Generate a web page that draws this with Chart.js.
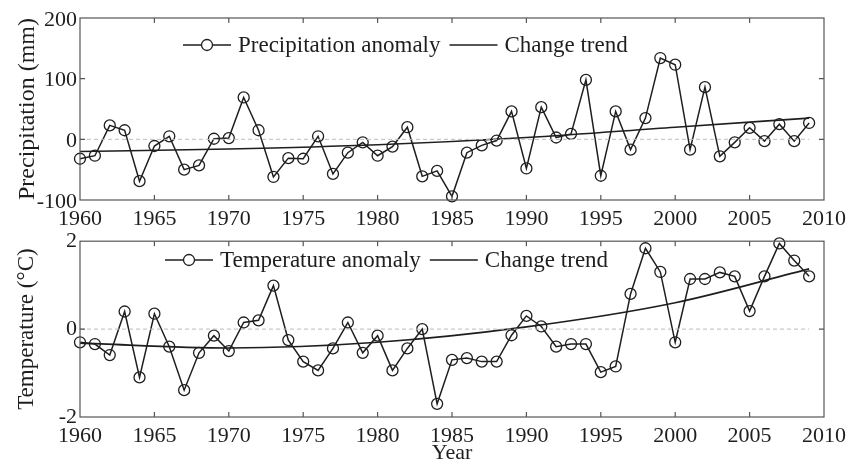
<!DOCTYPE html>
<html lang="en">
<head>
<meta charset="UTF-8">
<title>Precipitation and temperature anomaly</title>
<script src="https://cdn.jsdelivr.net/npm/chart.js"></script>
<style>
  body { margin: 0; background: #fff; }
  .panel { position: absolute; left: 0; width: 859px; }
  #top { top: 0; height: 230px; }
  #bottom { top: 225px; height: 246px; }
</style>
</head>
<body>
<div class="panel" id="top"><canvas id="precChart"></canvas></div>
<div class="panel" id="bottom"><canvas id="tempChart"></canvas></div>

<script>
// data
const years = [1960, 1961, 1962, 1963, 1964, 1965, 1966, 1967, 1968, 1969,
               1970, 1971, 1972, 1973, 1974, 1975, 1976, 1977, 1978, 1979,
               1980, 1981, 1982, 1983, 1984, 1985, 1986, 1987, 1988, 1989,
               1990, 1991, 1992, 1993, 1994, 1995, 1996, 1997, 1998, 1999,
               2000, 2001, 2002, 2003, 2004, 2005, 2006, 2007, 2008, 2009];

const precip = [-32, -27, 23, 15, -69, -11, 5, -50, -43, 1,
                2, 69, 15, -62, -31, -32, 5, -57, -22, -5,
                -27, -12, 20, -61, -52, -94, -22, -10, -2, 46,
                -48, 53, 3, 9, 98, -60, 46, -17, 35, 134,
                123, -17, 86, -28, -5, 19, -3, 25, -3, 27];

const temp = [-0.30, -0.34, -0.59, 0.40, -1.10, 0.35, -0.40, -1.39, -0.54, -0.15,
              -0.50, 0.15, 0.20, 0.99, -0.25, -0.74, -0.94, -0.44, 0.15, -0.54,
              -0.15, -0.94, -0.44, 0.00, -1.70, -0.70, -0.66, -0.74, -0.74, -0.14,
              0.30, 0.06, -0.40, -0.34, -0.34, -0.98, -0.85, 0.80, 1.84, 1.30,
              -0.30, 1.14, 1.14, 1.29, 1.20, 0.41, 1.20, 1.95, 1.56, 1.20];

// trend curves, sampled at a few years
const trendYears = [1960, 1970, 1980, 1990, 2000, 2009];
const precipTrend = [-20, -16, -9, 3, 20, 35];
const tempTrend = [-0.32, -0.43, -0.30, 0.05, 0.60, 1.37];

const xTicks = [1960, 1965, 1970, 1975, 1980, 1985, 1990, 1995, 2000, 2005, 2010];
const precipTicks = [-100, 0, 100, 200];
const tempTicks = [-2, 0, 2];

const FONT = 'Liberation Serif, Times New Roman, serif';
const INK = '#1e1e1e';

const pairs = (xs, ys) => xs.map((x, i) => ({x: x, y: ys[i]}));

// box round the plot + ticks pointing inward, like matlab
const framePlugin = {
    id: 'frame',
    afterDraw(chart) {
        const ctx = chart.ctx;
        const a = chart.chartArea;
        const xs = chart.scales.x, ys = chart.scales.y;
        const len = 5;
        ctx.save();
        ctx.strokeStyle = '#555';
        ctx.lineWidth = 1.2;
        ctx.strokeRect(a.left, a.top, a.right - a.left, a.bottom - a.top);
        ctx.beginPath();
        xs.ticks.forEach(t => {
            const px = xs.getPixelForValue(t.value);
            if (px <= a.left + 1 || px >= a.right - 1) return;
            ctx.moveTo(px, a.bottom); ctx.lineTo(px, a.bottom - len);
            ctx.moveTo(px, a.top); ctx.lineTo(px, a.top + len);
        });
        ys.ticks.forEach(t => {
            const py = ys.getPixelForValue(t.value);
            if (py <= a.top + 1 || py >= a.bottom - 1) return;
            ctx.moveTo(a.left, py); ctx.lineTo(a.left + len, py);
            ctx.moveTo(a.right, py); ctx.lineTo(a.right - len, py);
        });
        ctx.stroke();
        ctx.restore();
    }
};

// legend drawn inside the axes
const inlineLegend = {
    id: 'inlineLegend',
    afterDraw(chart, args, opts) {
        const ctx = chart.ctx;
        let x = opts.x;
        const y = opts.y;
        ctx.save();
        ctx.font = '23px ' + FONT;
        ctx.textBaseline = 'middle';
        ctx.fillStyle = INK;
        chart.data.datasets.forEach(ds => {
            if (!ds.label) return;
            ctx.strokeStyle = ds.borderColor;
            ctx.lineWidth = ds.borderWidth;
            ctx.beginPath();
            ctx.moveTo(x, y); ctx.lineTo(x + 48, y);
            ctx.stroke();
            if (ds.pointRadius > 0) {
                ctx.fillStyle = '#fff';
                ctx.lineWidth = ds.pointBorderWidth;
                ctx.beginPath();
                ctx.arc(x + 24, y, ds.pointRadius, 0, Math.PI * 2);
                ctx.fill();
                ctx.stroke();
                ctx.fillStyle = INK;
            }
            ctx.fillText(ds.label, x + 55, y + 1);
            x += 55 + ctx.measureText(ds.label).width + 9;
        });
        ctx.restore();
    }
};

function makePanel(id, cfg) {
    return new Chart(document.getElementById(id), {
        type: 'line',
        data: {
            datasets: [{
                label: '',
                data: [{x: years[0], y: 0}, {x: years[years.length - 1], y: 0}],
                borderColor: '#bdbdbd',
                borderWidth: 1,
                borderDash: [4, 3],
                pointRadius: 0
            }, {
                label: cfg.seriesLabel,
                data: pairs(years, cfg.values),
                borderColor: INK,
                borderWidth: 1.5,
                pointRadius: 5.5,
                pointBorderWidth: 1.3,
                pointBorderColor: INK,
                pointBackgroundColor: 'rgba(0,0,0,0)',
                tension: 0,
                clip: false
            }, {
                label: 'Change trend',
                data: pairs(trendYears, cfg.trend),
                borderColor: INK,
                borderWidth: 1.6,
                pointRadius: 0,
                tension: 0.4,
                cubicInterpolationMode: 'monotone'
            }]
        },
        options: {
            responsive: true,
            maintainAspectRatio: false,
            animation: false,
            layout: {padding: {top: cfg.padTop, right: 35, left: 0, bottom: 0}},
            plugins: {
                legend: {display: false},
                tooltip: {enabled: false},
                inlineLegend: {x: cfg.legendX, y: cfg.legendY}
            },
            scales: {
                x: {
                    type: 'linear',
                    min: 1960, max: 2010,
                    afterBuildTicks: s => { s.ticks = xTicks.map(v => ({value: v})); },
                    grid: {display: false, drawTicks: false},
                    border: {display: false},
                    ticks: {
                        font: {family: FONT, size: 22},
                        color: INK,
                        padding: 6,
                        maxRotation: 0,
                        autoSkip: false,
                        callback: v => String(v)
                    },
                    title: {
                        display: !!cfg.xTitle,
                        text: cfg.xTitle || '',
                        font: {family: FONT, size: 22},
                        color: INK,
                        padding: {top: 0, bottom: 5}
                    },
                    afterFit: s => { s.height = cfg.xHeight; }
                },
                y: {
                    min: cfg.yMin, max: cfg.yMax,
                    afterBuildTicks: s => { s.ticks = cfg.yTicks.map(v => ({value: v})); },
                    grid: {display: false, drawTicks: false},
                    border: {display: false},
                    ticks: {
                        font: {family: FONT, size: 22},
                        color: INK,
                        padding: 3,
                        labelOffset: cfg.yLabelShift,
                        callback: v => String(v)
                    },
                    title: {
                        display: true,
                        text: cfg.yTitle,
                        font: {family: FONT, size: cfg.yTitleSize},
                        color: INK,
                        padding: {top: 13, bottom: 0}
                    },
                    afterFit: s => { s.width = 80; }
                }
            }
        },
        plugins: [framePlugin, inlineLegend]
    });
}

makePanel('precChart', {
    values: precip, trend: precipTrend,
    seriesLabel: 'Precipitation anomaly',
    yTitle: 'Precipitation (mm)', yTitleSize: 24,
    yMin: -100, yMax: 200, yTicks: precipTicks, yLabelShift: 2,
    padTop: 18, xHeight: 30,
    legendX: 183, legendY: 45
});

makePanel('tempChart', {
    values: temp, trend: tempTrend,
    seriesLabel: 'Temperature anomaly',
    yTitle: 'Temperature (°C)', yTitleSize: 23,
    xTitle: 'Year',
    yMin: -2, yMax: 2, yTicks: tempTicks, yLabelShift: 0,
    padTop: 15, xHeight: 54,
    legendX: 165, legendY: 35
});
</script>
</body>
</html>
